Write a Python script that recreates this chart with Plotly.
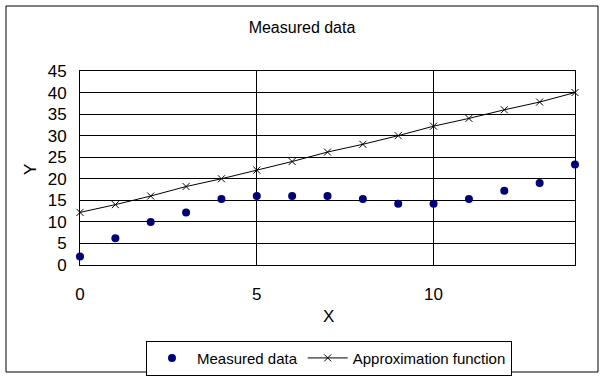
import plotly.graph_objects as go

x_vals = list(range(15))
measured = [2.0, 6.2, 10.0, 12.2, 15.3, 16.0, 16.0, 16.0, 15.3, 14.2, 14.2, 15.3, 17.2, 19.0, 23.3]
approx = [12.2, 14.0, 16.0, 18.2, 20.0, 22.0, 24.0, 26.2, 28.0, 30.0, 32.2, 34.0, 36.0, 37.8, 40.0]

FONT = "Liberation Sans, DejaVu Sans, sans-serif"

fig = go.Figure()
fig.add_trace(go.Scatter(
    x=x_vals, y=measured, mode="markers", name="Measured data",
    marker=dict(symbol="circle", size=8, color="#000080"),
    cliponaxis=False))
fig.add_trace(go.Scatter(
    x=x_vals, y=approx, mode="lines+markers", name="Approximation function",
    line=dict(color="black", width=1),
    marker=dict(symbol="x-thin", size=7, line=dict(color="black", width=1)),
    cliponaxis=False))

fig.update_layout(
    width=604, height=379,
    margin=dict(l=80, r=29, t=71, b=114, autoexpand=False),
    paper_bgcolor="white", plot_bgcolor="white",
    font=dict(family=FONT, color="black", size=14),
    title=dict(text="Measured data", x=0.5, xref="container", xanchor="center",
               y=1 - 27 / 379, yanchor="middle", yref="container",
               font=dict(size=16, family=FONT, color="black")),
    showlegend=True,
    legend=dict(orientation="h", x=0.503, xanchor="center", y=-0.39, yanchor="top",
                bordercolor="black", borderwidth=1, bgcolor="white",
                font=dict(size=15, family=FONT), itemwidth=40,
                tracegroupgap=0),
    xaxis=dict(range=[0, 14], dtick=5, tick0=0, showgrid=True, gridcolor="black",
               gridwidth=1, showline=True, linecolor="black", linewidth=1, mirror=True,
               zeroline=False, ticks="", ticklabelstandoff=14,
               tickfont=dict(size=17, family=FONT)),
    yaxis=dict(range=[0, 45], dtick=5, tick0=0, showgrid=True, gridcolor="black",
               gridwidth=1, showline=True, linecolor="black", linewidth=1, mirror=True,
               zeroline=False, ticks="", ticklabelstandoff=9,
               tickfont=dict(size=17, family=FONT)),
    annotations=[
        dict(text="X", x=(328 - 80) / 495, xref="paper", y=(265 - 316) / 194, yref="paper",
             showarrow=False, xanchor="center", yanchor="middle", font=dict(size=17, family=FONT)),
        dict(text="Y", x=(30 - 80) / 495, xref="paper", y=(265 - 170) / 194, yref="paper",
             showarrow=False, xanchor="center", yanchor="middle", textangle=-90,
             font=dict(size=17, family=FONT)),
    ],
    shapes=[dict(type="rect", xref="paper", yref="paper",
                 x0=(6 - 80) / 495, x1=(598 - 80) / 495,
                 y0=(265 - 372) / 194, y1=(265 - 6) / 194,
                 line=dict(color="black", width=1), layer="below")],
)

fig.write_html("out.html", config={"displayModeBar": False},
               post_script="document.body.style.margin='0';document.body.style.padding='0';")
